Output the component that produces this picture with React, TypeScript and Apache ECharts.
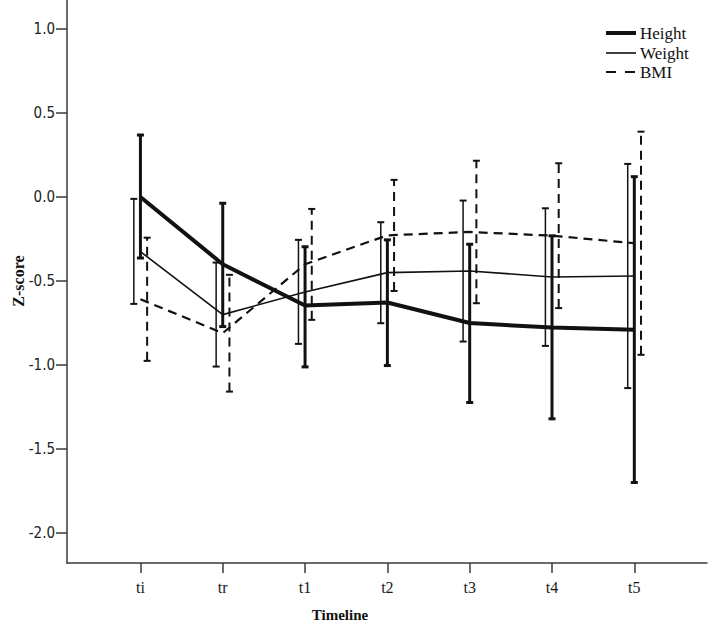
import React, { useEffect, useRef } from "react";
import * as echarts from "echarts";

// Time points on the horizontal axis
const categories = ["ti", "tr", "t1", "t2", "t3", "t4", "t5"];

// Mean z-scores and 95% CI bounds per time point
const heightMean = [0.0, -0.4, -0.646, -0.628, -0.75, -0.777, -0.79];
const heightLow = [-0.363, -0.771, -1.011, -1.003, -1.223, -1.32, -1.699];
const heightHigh = [0.369, -0.037, -0.296, -0.255, -0.281, -0.231, 0.121];

const weightMean = [-0.325, -0.7, -0.565, -0.45, -0.44, -0.476, -0.47];
const weightLow = [-0.636, -1.009, -0.874, -0.751, -0.86, -0.886, -1.137];
const weightHigh = [-0.011, -0.39, -0.255, -0.15, -0.021, -0.067, 0.197];

const bmiMean = [-0.608, -0.81, -0.4, -0.228, -0.208, -0.23, -0.275];
const bmiLow = [-0.975, -1.158, -0.731, -0.559, -0.632, -0.661, -0.939];
const bmiHigh = [-0.242, -0.463, -0.071, 0.102, 0.216, 0.201, 0.389];

// Axis tick values
const yTicks = [-2.0, -1.5, -1.0, -0.5, 0.0, 0.5, 1.0];
const xTicks = [0, 1, 2, 3, 4, 5, 6];

const INK = "#111";
const AXIS = "#3a3a3a";

type BarStyle = { offset: number; width: number; dash?: number[]; cap: number };

function meanLine(name: string, values: number[], width: number, dash?: number[]) {
  return {
    name,
    type: "line",
    data: values.map((v, i) => [i, v]),
    symbol: "none",
    z: 3,
    lineStyle: { color: INK, width, type: dash ? dash : "solid" },
  };
}

function errorBars(name: string, low: number[], high: number[], s: BarStyle) {
  return {
    name: name + " CI",
    type: "custom",
    z: 2,
    encode: { x: 0, y: [1, 2] },
    data: low.map((l, i) => [i, l, high[i]]),
    renderItem: (_params: any, api: any) => {
      const x = api.value(0);
      const pLo = api.coord([x, api.value(1)]);
      const pHi = api.coord([x, api.value(2)]);
      const px = pLo[0] + s.offset;
      const h = s.cap / 2;
      const stroke = { stroke: INK, lineWidth: s.width, lineDash: s.dash || null };
      const capStroke = { stroke: INK, lineWidth: Math.max(2, s.width) };
      return {
        type: "group",
        children: [
          { type: "line", shape: { x1: px, y1: pLo[1], x2: px, y2: pHi[1] }, style: stroke },
          { type: "line", shape: { x1: px - h, y1: pLo[1], x2: px + h, y2: pLo[1] }, style: capStroke },
          { type: "line", shape: { x1: px - h, y1: pHi[1], x2: px + h, y2: pHi[1] }, style: capStroke },
        ],
      };
    },
  };
}

function legendRow(label: string, y: number, width: number, dash?: number[]) {
  return [
    {
      type: "line",
      shape: { x1: 606, y1: y, x2: 636, y2: y },
      style: { stroke: INK, lineWidth: width, lineDash: dash || null },
    },
    {
      type: "text",
      x: 640,
      y,
      style: {
        text: label,
        fill: INK,
        font: "17px 'Liberation Serif', serif",
        verticalAlign: "middle",
        align: "left",
      },
    },
  ];
}

export default function App() {
  const ref = useRef<HTMLDivElement>(null);

  useEffect(() => {
    if (!ref.current) return;
    const chart = echarts.init(ref.current, null, { renderer: "svg" });
    chart.setOption({
      animation: false,
      backgroundColor: "#fff",
      grid: { left: 67, right: 1, top: 0, bottom: 61, outerBoundsMode: "none" },
      xAxis: {
        type: "value",
        min: -0.892,
        max: 6.883,
        splitLine: { show: false },
        axisLine: { onZero: false, lineStyle: { color: AXIS, width: 1.5 } },
        axisTick: {
          customValues: xTicks,
          length: 10,
          lineStyle: { color: AXIS, width: 1.5 },
        },
        axisLabel: {
          customValues: xTicks,
          formatter: (v: number) => categories[Math.round(v)] ?? "",
          margin: 16,
          color: "#1a1a1a",
          fontSize: 16,
          fontFamily: "'Liberation Serif', serif",
        },
      },
      yAxis: {
        type: "value",
        min: -2.178,
        max: 1.1725,
        splitLine: { show: false },
        axisLine: { show: true, onZero: false, lineStyle: { color: AXIS, width: 1.5 } },
        axisTick: {
          show: true,
          customValues: yTicks,
          length: 11,
          lineStyle: { color: AXIS, width: 1.5 },
        },
        axisLabel: {
          customValues: yTicks,
          formatter: (v: number) => v.toFixed(1),
          margin: 12,
          color: "#222",
          fontSize: 15,
          fontFamily: "'DejaVu Sans Condensed', 'DejaVu Sans', sans-serif",
        },
      },
      series: [
        errorBars("Weight", weightLow, weightHigh, { offset: -6.6, width: 1.5, cap: 7 }),
        errorBars("Height", heightLow, heightHigh, { offset: 0, width: 3, cap: 7 }),
        errorBars("BMI", bmiLow, bmiHigh, { offset: 6.7, width: 2, dash: [9, 6], cap: 7 }),
        meanLine("Height", heightMean, 4),
        meanLine("Weight", weightMean, 1.6),
        meanLine("BMI", bmiMean, 2.2, [9, 6]),
      ],
      graphic: [
        {
          type: "text",
          x: 340,
          y: 615,
          style: {
            text: "Timeline",
            fill: INK,
            font: "bold 15px 'Liberation Serif', serif",
            align: "center",
            verticalAlign: "middle",
          },
        },
        {
          type: "text",
          x: 18,
          y: 281,
          rotation: Math.PI / 2,
          style: {
            text: "Z-score",
            fill: INK,
            font: "bold 16px 'Liberation Serif', serif",
            align: "center",
            verticalAlign: "middle",
          },
        },
        ...legendRow("Height", 33, 4),
        ...legendRow("Weight", 53, 1.6),
        ...legendRow("BMI", 72, 2, [10, 9]),
      ],
    });
    return () => chart.dispose();
  }, []);

  return (
    <div
      ref={ref}
      style={{ position: "fixed", left: 0, top: 0, width: 708, height: 624, background: "#fff" }}
    />
  );
}
